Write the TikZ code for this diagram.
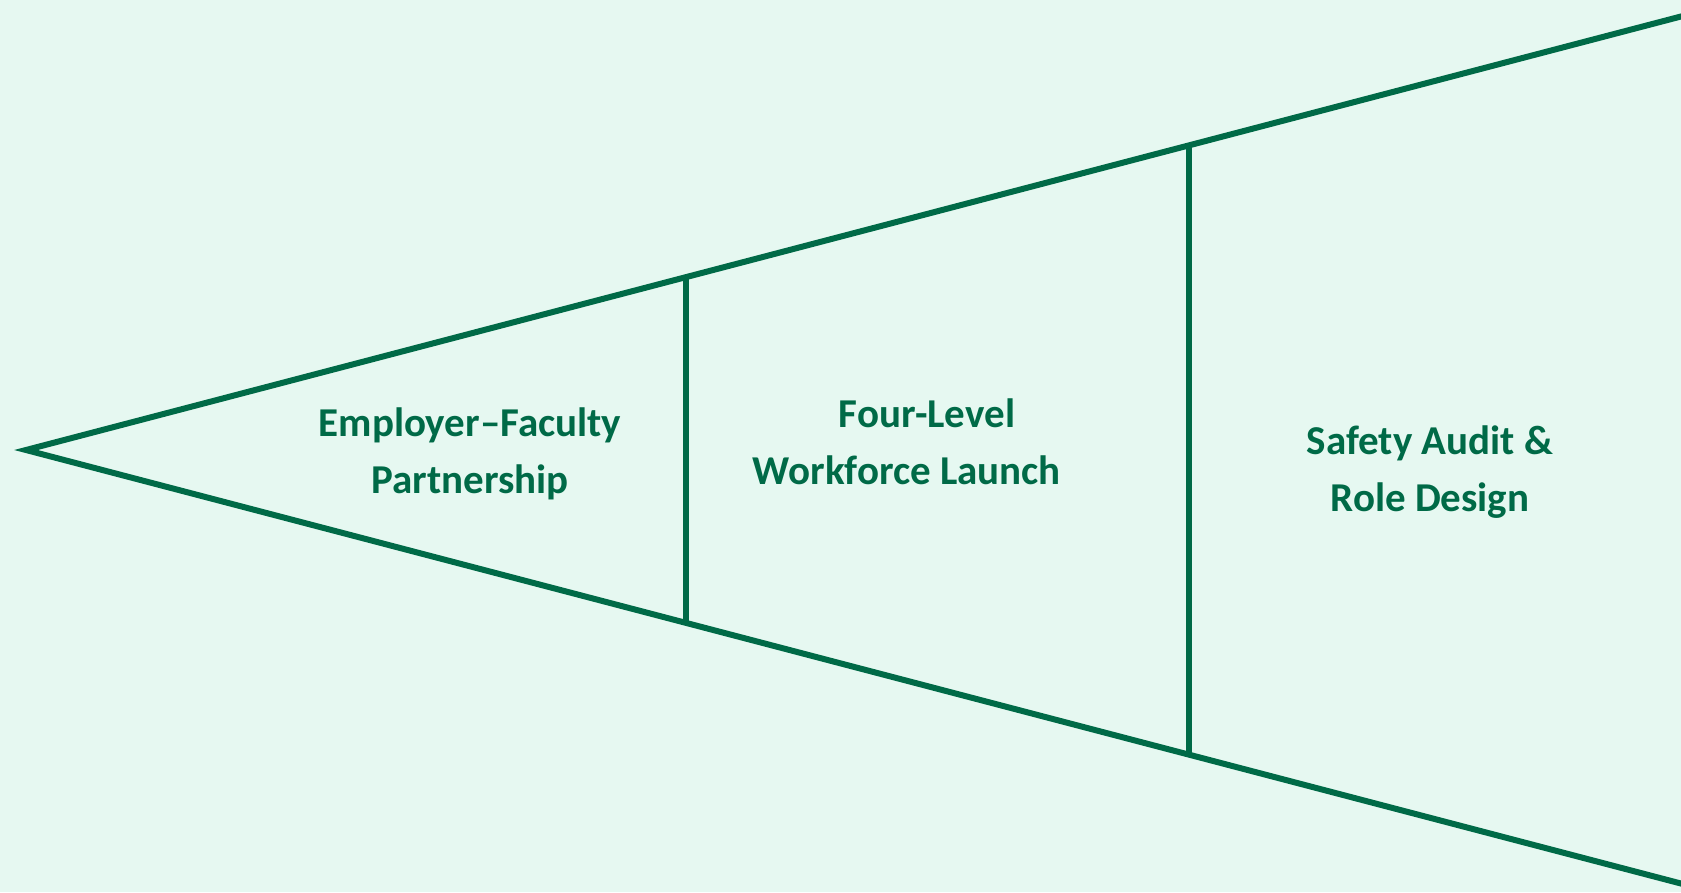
\documentclass[tikz,border=0pt]{standalone}
\usepackage{fontspec}
\setmainfont{Carlito}
\definecolor{bgc}{HTML}{E6F8F1}
\definecolor{grn}{HTML}{006A47}
\begin{document}
\begin{tikzpicture}[x=1pt,y=-1pt,
  edge/.style={draw=grn,line width=6pt,miter limit=20},
  lbl/.style={text=grn,font=\fontsize{41}{57}\selectfont\bfseries,align=center,inner sep=0pt}]
\fill[bgc] (0,0) rectangle (1681,892);
\useasboundingbox (0,0) rectangle (1681,892);
\coordinate (tip) at (26,450);
\coordinate (tr) at (1700,11.5);
\coordinate (br) at (1700,888.5);
\coordinate (t1) at (686,277);
\coordinate (b1) at (686,623);
\coordinate (t2) at (1189,145);
\coordinate (b2) at (1189,755);
\draw[edge] (tr) -- (tip) -- (br);
\draw[edge] (t1) -- (b1);
\draw[edge] (t2) -- (b2);
\node[lbl] (n1) at (470,454) {Employer–Faculty\\Partnership};
\node[lbl] (n2) at (907,442) {\hspace*{40pt}Four-Level\\Workforce Launch};
\node[lbl] (n3) at (1430,472) {Safety Audit \&\\Role Design};
\end{tikzpicture}
\end{document}
